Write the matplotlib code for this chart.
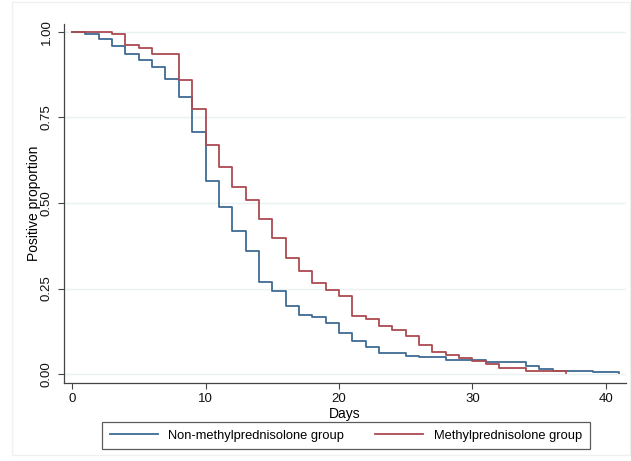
import matplotlib
matplotlib.use("Agg")
import matplotlib.pyplot as plt
from matplotlib.patches import Rectangle

# Data (Kaplan-Meier style step curves)
non_days = [0, 1, 2, 3, 4, 5, 6, 7, 8, 9, 10, 11, 12, 13, 14, 15, 16, 17, 18, 19,
            20, 21, 22, 23, 25, 26, 28, 31, 34, 35, 36, 39, 41]
non_prop = [1.0, 0.994, 0.979, 0.960, 0.934, 0.919, 0.898, 0.861, 0.811, 0.708,
            0.565, 0.489, 0.418, 0.361, 0.269, 0.243, 0.199, 0.173, 0.168, 0.148,
            0.121, 0.098, 0.080, 0.063, 0.054, 0.049, 0.041, 0.036, 0.023, 0.016,
            0.010, 0.005, 0.002]
met_days = [0, 3, 4, 5, 6, 8, 9, 10, 11, 12, 13, 14, 15, 16, 17, 18, 19, 20, 21,
            22, 23, 24, 25, 26, 27, 28, 29, 30, 31, 32, 34, 37]
met_prop = [1.0, 0.994, 0.963, 0.953, 0.935, 0.858, 0.774, 0.670, 0.605, 0.548,
            0.510, 0.453, 0.397, 0.340, 0.302, 0.265, 0.246, 0.227, 0.170, 0.160,
            0.140, 0.130, 0.112, 0.084, 0.066, 0.057, 0.048, 0.039, 0.029, 0.019,
            0.010, 0.002]
labels = ["Non-methylprednisolone group", "Methylprednisolone group"]
yticks = [0.0, 0.25, 0.5, 0.75, 1.0]
yticklabels = ["0.00", "0.25", "0.50", "0.75", "1.00"]
xticks = [0, 10, 20, 30, 40]

blue = "#3f6b94"
red = "#ad4a52"

plt.rcParams['font.family'] = ['Liberation Sans', 'DejaVu Sans']

fig = plt.figure(figsize=(6.31, 4.61), dpi=100)
fig.patch.set_facecolor("white")
# faint outer graph-region border
fig.patches.append(Rectangle((12 / 631, 6 / 461), 618 / 631, 453 / 461,
                             transform=fig.transFigure, fill=False,
                             edgecolor="#f0f0f0", linewidth=1.0))

ax = fig.add_axes([64 / 631, 78 / 461, 562 / 631, 359 / 461])
for y in yticks:
    ax.axhline(y, color="#eaf2f4", linewidth=1.0, zorder=0)

l1, = ax.step(non_days, non_prop, where="post", color=blue, linewidth=1.3)
l2, = ax.step(met_days, met_prop, where="post", color=red, linewidth=1.3)

ax.set_xlim(-0.6, 41.5)
ax.set_ylim(-0.026, 1.023)
ax.set_xticks(xticks)
ax.set_yticks(yticks)
ax.set_yticklabels(yticklabels, rotation=90, va="center")
ax.tick_params(axis="both", direction="out", length=4, width=0.8,
               color="#444444", labelsize=9.5, labelcolor="#111111")
ax.tick_params(axis="y", pad=4)
for s in ["top", "right"]:
    ax.spines[s].set_visible(False)
for s in ["left", "bottom"]:
    ax.spines[s].set_color("#444444")
    ax.spines[s].set_linewidth(0.9)

ax.set_xlabel("Days", fontsize=10, labelpad=1)
ax.set_ylabel("Positive proportion", fontsize=10, labelpad=0)

leg = fig.legend([l1, l2], labels, loc="center",
                 bbox_to_anchor=(346 / 631, 1 - 435.5 / 461), ncol=2,
                 fontsize=9.3, frameon=True, fancybox=False, handlelength=3.7,
                 handletextpad=0.85, columnspacing=2.4, borderpad=0.6,
                 borderaxespad=0)
leg.get_frame().set_edgecolor("#333333")
leg.get_frame().set_linewidth(0.9)

fig.savefig("out.png", dpi=100, facecolor="white")
